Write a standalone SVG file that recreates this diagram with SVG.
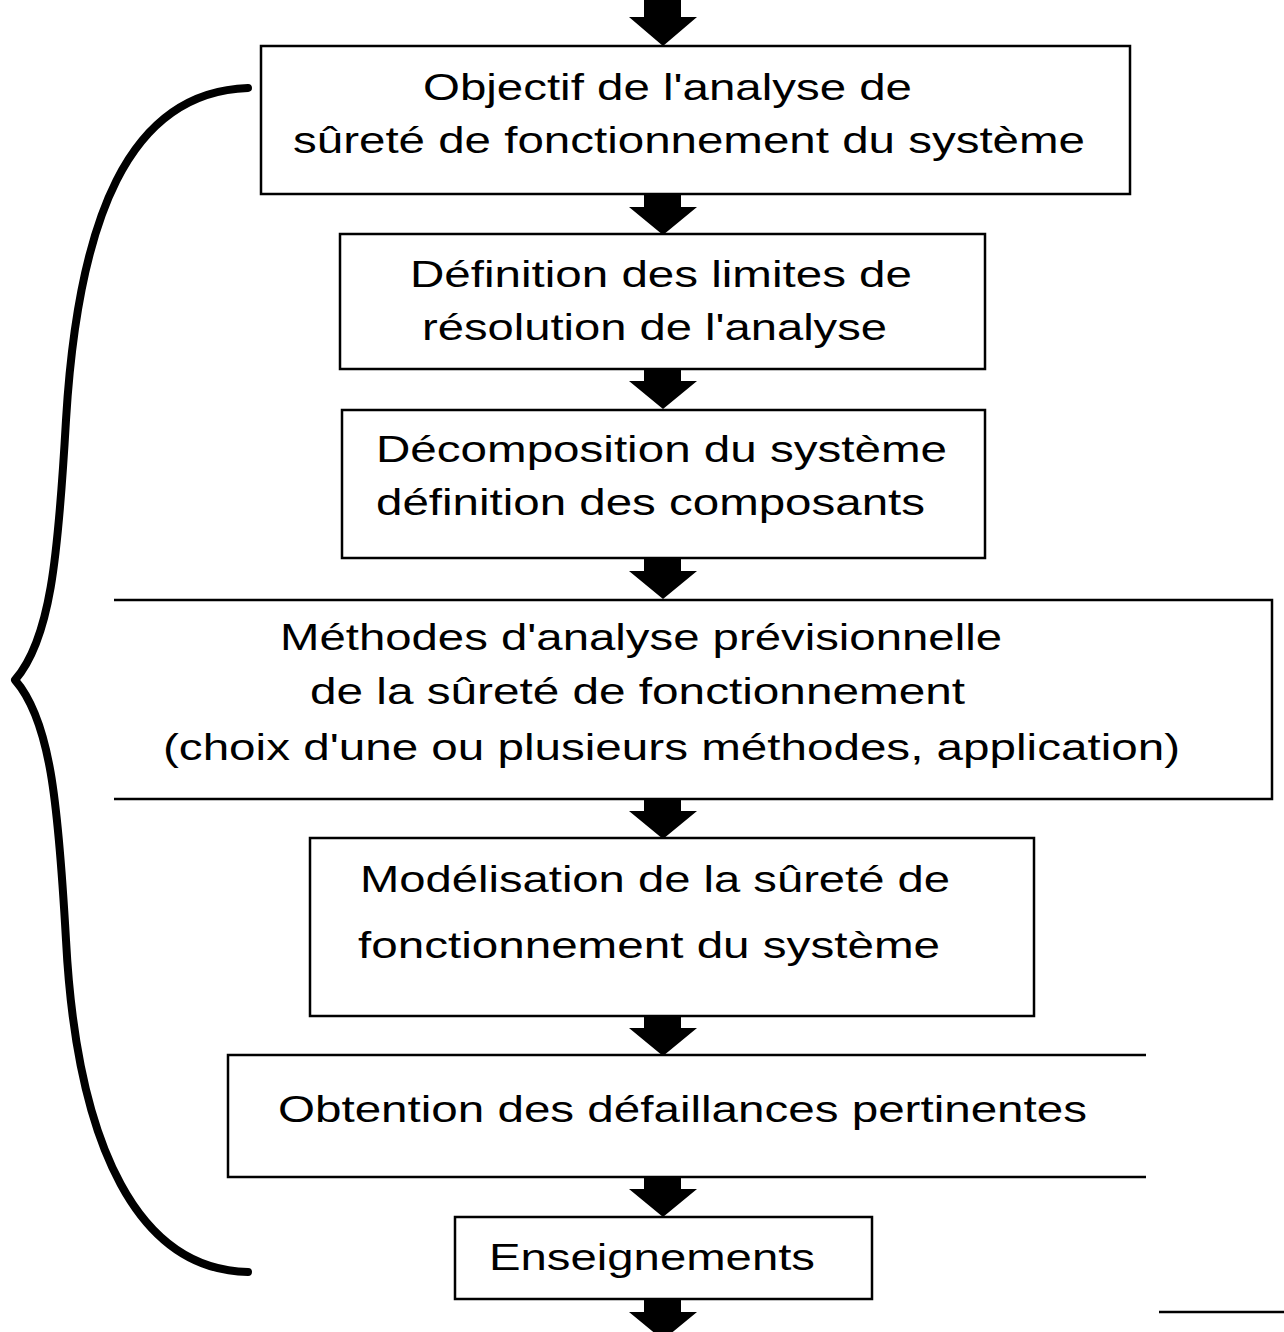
<svg xmlns="http://www.w3.org/2000/svg" width="1284" height="1332" viewBox="0 0 1284 1332">
<style>
.box{fill:none;stroke:#000;stroke-width:2.5}
.edge{stroke:#000;stroke-width:2.5;fill:none}
.t{font-family:"Liberation Sans",Arial,sans-serif;font-size:36px;fill:#000}
.arr{fill:#000}
</style>
<defs>
<path id="arrow" d="M-19,0 H18 V12 H34 L0,40 L-34,12 H-19 Z"/>
<path id="arrowTop" d="M-19,0 H18 V17 H34 L0,46 L-34,17 H-19 Z"/>
</defs>
<rect width="1284" height="1332" fill="#fff"/>
<g id="brace">
<path d="M248,88 C128,92 78,220 66,420 C58,560 50,640 15,680 C50,720 58,800 66,940 C77,1150 140,1270 248,1272" fill="none" stroke="#000" stroke-width="8" stroke-linecap="round" stroke-linejoin="round"/>
</g>
<g id="connectors">
<use href="#arrowTop" class="arr" x="663" y="0"/>
<use href="#arrow" class="arr" x="663" y="195"/>
<use href="#arrow" class="arr" x="663" y="369"/>
<use href="#arrow" class="arr" x="663" y="559"/>
<use href="#arrow" class="arr" x="663" y="799"/>
<use href="#arrow" class="arr" x="663" y="1016"/>
<use href="#arrow" class="arr" x="663" y="1177"/>
<use href="#arrow" class="arr" x="663" y="1300"/>
</g>
<g id="n1">
<rect class="box" x="261" y="46" width="869" height="148"/>
<text class="t" x="423" y="100" textLength="489" lengthAdjust="spacingAndGlyphs">Objectif de l'analyse de</text>
<text class="t" x="293" y="153" textLength="792" lengthAdjust="spacingAndGlyphs">sûreté de fonctionnement du système</text>
</g>
<g id="n2">
<rect class="box" x="340" y="234" width="645" height="135"/>
<text class="t" x="410" y="287" textLength="502" lengthAdjust="spacingAndGlyphs">Définition des limites de</text>
<text class="t" x="422" y="340" textLength="465" lengthAdjust="spacingAndGlyphs">résolution de l'analyse</text>
</g>
<g id="n3">
<rect class="box" x="342" y="410" width="643" height="148"/>
<text class="t" x="376" y="462" textLength="571" lengthAdjust="spacingAndGlyphs">Décomposition du système</text>
<text class="t" x="376" y="515" textLength="549" lengthAdjust="spacingAndGlyphs">définition des composants</text>
</g>
<g id="n4">
<path class="edge" d="M114,600 H1272 V799 H114"/>
<text class="t" x="280" y="650" textLength="722" lengthAdjust="spacingAndGlyphs">Méthodes d'analyse prévisionnelle</text>
<text class="t" x="310" y="704" textLength="655" lengthAdjust="spacingAndGlyphs">de la sûreté de fonctionnement</text>
<text class="t" x="163" y="760" textLength="1017" lengthAdjust="spacingAndGlyphs">(choix d'une ou plusieurs méthodes, application)</text>
</g>
<g id="n5">
<rect class="box" x="310" y="838" width="724" height="178"/>
<text class="t" x="360" y="892" textLength="590" lengthAdjust="spacingAndGlyphs">Modélisation de la sûreté de</text>
<text class="t" x="358" y="958" textLength="582" lengthAdjust="spacingAndGlyphs">fonctionnement du système</text>
</g>
<g id="n6">
<path class="edge" d="M1146,1055 H228 V1177 H1146"/>
<text class="t" x="278" y="1122" textLength="809" lengthAdjust="spacingAndGlyphs">Obtention des défaillances pertinentes</text>
</g>
<g id="n7">
<rect class="box" x="455" y="1217" width="417" height="82"/>
<text class="t" x="489" y="1270" textLength="326" lengthAdjust="spacingAndGlyphs">Enseignements</text>
</g>
<line class="edge" x1="1159" y1="1312" x2="1284" y2="1312"/>
</svg>
